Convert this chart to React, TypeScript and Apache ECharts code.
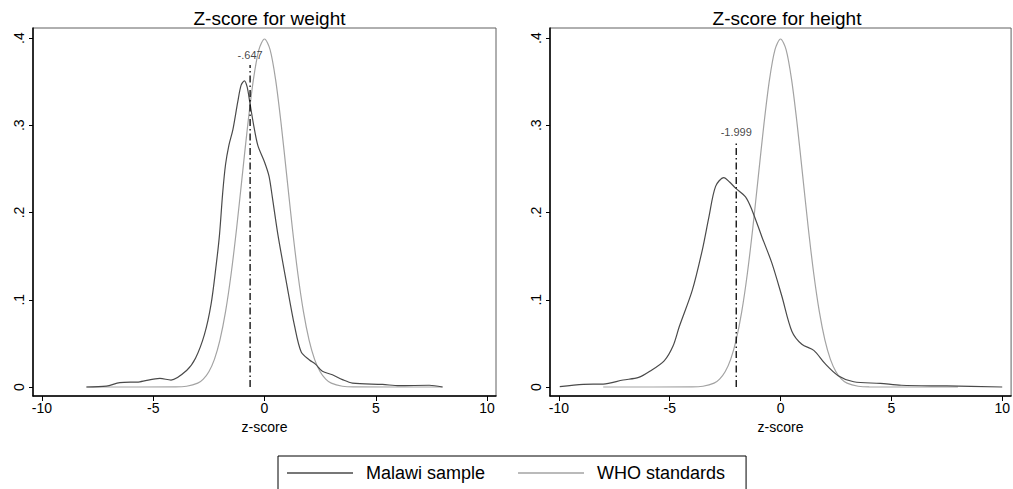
import React, { useEffect, useRef } from "react";
import * as echarts from "echarts";

const FONT = "Liberation Sans, Arial, Helvetica, sans-serif";

const titles = ["Z-score for weight", "Z-score for height"];
const seriesNames = ["Malawi sample", "WHO standards"];
const xTicks = [-10, -5, 0, 5, 10];
const yTicks = [0, 0.1, 0.2, 0.3, 0.4];

// Kernel density of Malawi sample, weight-for-age z-score
const malawiWeight: [number, number][] = [
  [-8.0, 0.0], [-7.1, 0.001], [-6.5, 0.005], [-5.6, 0.006], [-4.7, 0.0099],
  [-4.2, 0.008], [-3.5, 0.019], [-3.1, 0.033], [-2.7, 0.06], [-2.4, 0.095],
  [-2.17, 0.14], [-2.02, 0.175], [-1.88, 0.222], [-1.75, 0.255], [-1.6, 0.277],
  [-1.42, 0.295], [-1.2, 0.327], [-1.05, 0.346], [-0.9, 0.351], [-0.78, 0.344],
  [-0.67, 0.328], [-0.5, 0.302], [-0.3, 0.277], [0.0, 0.258], [0.2, 0.242],
  [0.35, 0.218], [0.6, 0.175], [0.97, 0.122], [1.35, 0.07], [1.65, 0.04],
  [2.02, 0.031], [2.3, 0.026], [2.6, 0.018], [3.05, 0.014], [3.5, 0.0085],
  [3.95, 0.0045], [5.3, 0.003], [6.05, 0.0015], [7.4, 0.002], [8.0, 0.0],
];

// Kernel density of Malawi sample, height-for-age z-score
const malawiHeight: [number, number][] = [
  [-9.96, 0.0005], [-8.9, 0.003], [-8.0, 0.0034], [-7.1, 0.008], [-6.4, 0.011],
  [-5.9, 0.018], [-5.25, 0.03], [-4.85, 0.047], [-4.57, 0.069], [-3.98, 0.111],
  [-3.53, 0.157], [-3.23, 0.195], [-2.93, 0.23], [-2.56, 0.24], [-2.3, 0.235],
  [-2.03, 0.228], [-1.58, 0.218], [-1.29, 0.203], [-0.84, 0.172], [-0.39, 0.142],
  [0.06, 0.104], [0.51, 0.064], [0.96, 0.049], [1.5, 0.042], [2.0, 0.027],
  [2.6, 0.013], [3.3, 0.006], [4.5, 0.0042], [5.45, 0.002], [7.5, 0.0012],
  [10.0, 0.0],
];

// WHO standard density
const whoStandard: [number, number][] = [
  [-8, 0.0], [-4, 0.0001], [-3.5, 0.0009], [-3, 0.0044], [-2.75, 0.0091],
  [-2.5, 0.0175], [-2.25, 0.0317], [-2, 0.054], [-1.75, 0.0863], [-1.5, 0.1295],
  [-1.25, 0.1826], [-1, 0.242], [-0.75, 0.3011], [-0.5, 0.3521], [-0.25, 0.3867],
  [0, 0.3989], [0.25, 0.3867], [0.5, 0.3521], [0.75, 0.3011], [1, 0.242],
  [1.25, 0.1826], [1.5, 0.1295], [1.75, 0.0863], [2, 0.054], [2.25, 0.0317],
  [2.5, 0.0175], [2.75, 0.0091], [3, 0.0044], [3.5, 0.0009], [4, 0.0001], [8, 0.0],
];

// Sample means (reference lines): [x, line top]
const meanWeight: [number, number] = [-0.647, 0.369];
const meanHeight: [number, number] = [-1.999, 0.2797];
const meanLabels = ["-.647", "-1.999"];

const MALAWI_COLOR = "#4a4a4a";
const WHO_COLOR = "#a3a3a3";

export default function App() {
  const ref = useRef<HTMLDivElement>(null);

  useEffect(() => {
    if (!ref.current) return;
    const chart = echarts.init(ref.current, undefined, { renderer: "svg" });

    const grids = [
      { left: 33, top: 28, width: 463, height: 368 },
      { left: 550, top: 28, width: 464, height: 368 },
    ];

    const xAxis = [0, 1].map((i) => ({
      type: "value",
      gridIndex: i,
      min: -10.4,
      max: 10.4,
      name: "z-score",
      nameLocation: "middle",
      nameGap: 22,
      nameTextStyle: { fontFamily: FONT, fontSize: 14, color: "#000" },
      axisLine: { show: true, onZero: false, lineStyle: { color: "#000", width: 1.5 } },
      axisTick: { show: true, length: 5, customValues: xTicks, lineStyle: { color: "#000" } },
      axisLabel: {
        customValues: xTicks,
        fontFamily: FONT,
        fontSize: 14,
        color: "#000",
        margin: 5,
      },
      splitLine: { show: false },
    }));

    const yAxis = [0, 1].map((i) => ({
      type: "value",
      gridIndex: i,
      min: -0.0103,
      max: 0.4115,
      axisLine: { show: true, onZero: false, lineStyle: { color: "#000", width: 1.5 } },
      axisTick: { show: true, length: 4, customValues: yTicks, lineStyle: { color: "#000" } },
      axisLabel: {
        customValues: yTicks,
        rotate: 90,
        fontFamily: FONT,
        fontSize: 14,
        color: "#000",
        margin: 7,
        formatter: (v: number) => (v === 0 ? "0" : String(Math.round(v * 10) / 10).replace("0.", ".")),
      },
      splitLine: { show: false },
    }));

    const densities = [malawiWeight, malawiHeight];
    const means = [meanWeight, meanHeight];

    const series: any[] = [];
    [0, 1].forEach((i) => {
      series.push({
        type: "line",
        name: seriesNames[0],
        xAxisIndex: i,
        yAxisIndex: i,
        data: densities[i],
        showSymbol: false,
        symbol: "none",
        smooth: 0.3,
        lineStyle: { color: MALAWI_COLOR, width: 1.2 },
        itemStyle: { color: MALAWI_COLOR },
        z: 3,
      });
      series.push({
        type: "line",
        name: seriesNames[1],
        xAxisIndex: i,
        yAxisIndex: i,
        data: whoStandard,
        showSymbol: false,
        symbol: "none",
        smooth: 0.3,
        lineStyle: { color: WHO_COLOR, width: 1.2 },
        itemStyle: { color: WHO_COLOR },
        z: 2,
      });
      const m = means[i];
      series.push({
        type: "line",
        name: "mean" + i,
        xAxisIndex: i,
        yAxisIndex: i,
        data: [[m[0], 0], [m[0], m[1]]],
        showSymbol: false,
        symbol: "none",
        lineStyle: { color: "#000", width: 1.3, type: [7, 3, 1.5, 3] },
        z: 4,
      });
      series.push({
        type: "scatter",
        name: "meanLabel" + i,
        xAxisIndex: i,
        yAxisIndex: i,
        data: [[m[0], m[1]]],
        symbolSize: 0,
        label: {
          show: true,
          position: "top",
          distance: 5,
          formatter: meanLabels[i],
          fontFamily: FONT,
          fontSize: 11,
          color: "#111",
        },
        z: 5,
      });
    });

    chart.setOption({
      animation: false,
      backgroundColor: "#fff",
      title: [0, 1].map((i) => ({
        text: titles[i],
        left: grids[i].left + grids[i].width / 2,
        top: 4,
        textAlign: "center",
        textStyle: { fontFamily: FONT, fontSize: 19, fontWeight: "normal", color: "#000" },
      })),
      grid: grids.map((g) => ({
        ...g,
        show: true,
        borderColor: "#606060",
        borderWidth: 1,
        backgroundColor: "transparent",
        containLabel: false,
      })),
      xAxis,
      yAxis,
      legend: {
        data: [
          { name: seriesNames[0], icon: "rect", itemStyle: { color: MALAWI_COLOR } },
          { name: seriesNames[1], icon: "rect", itemStyle: { color: WHO_COLOR } },
        ],
        left: 278,
        top: 456,
        orient: "horizontal",
        itemWidth: 66,
        itemHeight: 1.3,
        itemGap: 33,
        padding: [7, 21, 20, 9],
        borderColor: "#000",
        borderWidth: 1,
        selectedMode: false,
        textStyle: {
          fontFamily: FONT,
          fontSize: 18,
          color: "#000",
          lineHeight: 20,
          padding: [0, 0, 0, 8],
        },
      },
      series,
    });

    return () => chart.dispose();
  }, []);

  return (
    <div
      ref={ref}
      style={{ position: "absolute", left: 0, top: 0, width: 1013, height: 489, overflow: "hidden" }}
    />
  );
}
